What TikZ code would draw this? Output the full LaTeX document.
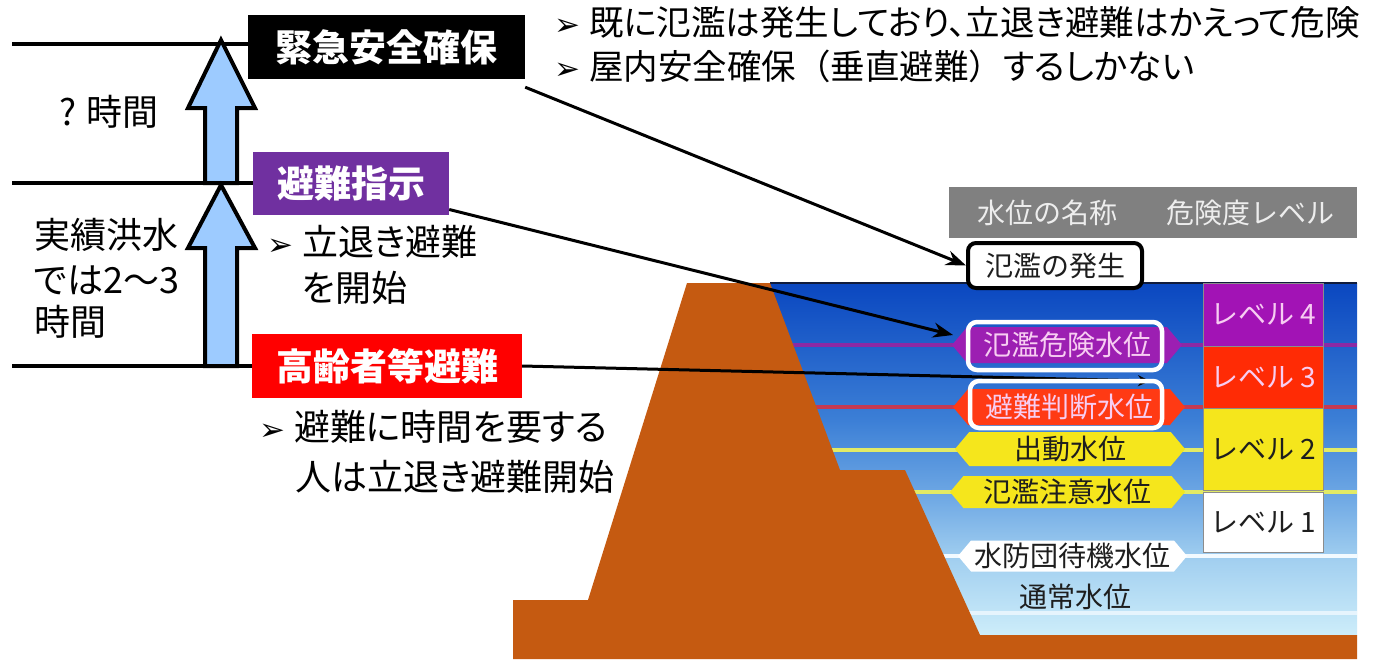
\documentclass[tikz,border=0pt]{standalone}
\usepackage{fontspec}
\usetikzlibrary{arrows.meta,shapes.symbols}
\setmainfont{Noto Sans CJK JP}
\newfontfamily\jp{Noto Sans CJK JP}[RawFeature=+palt]
\newfontfamily\jpf{Noto Sans CJK JP}
\newfontfamily\dv{DejaVu Sans}
\newcommand\myfs[1]{\fontsize{#1}{#1}\selectfont}
\newcommand\bul{\makebox[35pt][l]{\dv\myfs{31}➢}}

\definecolor{arrowblue}{HTML}{9DCBFF}
\definecolor{titlepurple}{HTML}{7030A0}
\definecolor{titlered}{HTML}{FF0000}
\definecolor{hdrgray}{HTML}{808080}
\definecolor{damcol}{HTML}{C55A11}
\definecolor{wA}{HTML}{CDEDFA}
\definecolor{wB}{HTML}{A3D0F0}
\definecolor{wC}{HTML}{72ABE5}
\definecolor{wD}{HTML}{3C7FD6}
\definecolor{wE}{HTML}{0A47C0}
\definecolor{lvpurple}{HTML}{A213B5}
\definecolor{lvred}{HTML}{FF2B05}
\definecolor{lvyellow}{HTML}{F5E61C}
\definecolor{hexpurple}{HTML}{9C1FB2}
\definecolor{hexred}{HTML}{FF3A14}
\definecolor{pinktext}{HTML}{F7CDF2}
\definecolor{lnpurple}{HTML}{8C2AA4}
\definecolor{lnred}{HTML}{C63A52}
\definecolor{lnyellow}{HTML}{E2EA66}
\definecolor{lnwhite}{HTML}{F2FAFF}
\definecolor{inkdark}{HTML}{1E1E1E}
\definecolor{navy}{HTML}{101C3C}

% water body: light at the bottom, deep blue at the surface
\pgfdeclareverticalshading{waterfill}{100bp}{color(0bp)=(wA); color(25bp)=(wA); color(35.5bp)=(wB); color(44bp)=(wC); color(55.5bp)=(wD); color(75bp)=(wE); color(100bp)=(wE)}

\begin{document}
\begin{tikzpicture}[x=1pt,y=-1pt,
  jt/.style={font=\jp\myfs{36}, inner sep=0, anchor=west},
  topt/.style={font=\jp\myfs{34.5}, inner sep=0, anchor=west},
  ttl/.style={font=\jp\bfseries\myfs{37}, text=white, inner sep=0},
  axisline/.style={line width=4pt},
  blockarrow/.style={draw=black, fill=arrowblue, line width=4pt, line join=miter},
  conn/.style={line width=3pt, -{Stealth[length=20pt,width=15pt]}},
  smallconn/.style={line width=3pt, -{Stealth[length=12pt,width=11pt]}},
  panel/.style={font=\jpf\myfs{28}, inner sep=0},
  hexlab/.style={panel, shape=signal, signal to=east and west, signal pointer angle=100},
  lvbox/.style={panel, draw=black!45, line width=1pt, minimum width=120},
  hlframe/.style={draw=white, line width=4.5pt, rounded corners=9pt, inner sep=0},
  lvline/.style={line width=4pt}]
\useasboundingbox (0,0) rectangle (1378,659);

% ---------- water-level panel ----------
\node[fill=hdrgray, minimum width=408, minimum height=51, inner sep=0] (hdr) at (1153,212.5) {};
\node[font=\jpf\myfs{28}, text=white!93!black, inner sep=0] (hdrtxt) at (1156,212.5)
      {水位の名称\hspace{50pt}危険度レベル};

\shade[shading=waterfill] (760,283) rectangle (1357,635);
\draw[navy, line width=2pt] (770,283) -- (1357,283);

\draw[lvline, lnpurple] (760,345) -- (1357,345);
\draw[lvline, lnred]    (760,407) -- (1357,407);
\draw[lvline, lnyellow] (760,450) -- (1357,450);
\draw[lvline, lnyellow] (760,492) -- (1357,492);
\draw[lvline, lnwhite]  (760,556) -- (1357,556);
\draw[lvline, lnwhite!85!wB] (760,613) -- (1357,613);

% embankment
\fill[damcol] (687,283) -- (770,283) -- (840,470) -- (905,470) -- (980,635)
  -- (1357,635) -- (1357,659) -- (513,659) -- (513,600) -- (588,600) -- cycle;

% danger levels
\node[lvbox, fill=lvpurple, text=pinktext, minimum height=63] (lv4) at (1263,314.5) {レベル 4};
\node[lvbox, fill=lvred, text=pinktext, minimum height=62] (lv3) at (1263,377) {レベル 3};
\node[lvbox, fill=lvyellow, text=inkdark, minimum height=82] (lv2) at (1263,449) {レベル 2};
\node[lvbox, fill=white, text=inkdark, minimum height=60] (lv1) at (1263,522) {レベル 1};

% named water levels
\node[hexlab, fill=hexpurple, text=pinktext, minimum width=230, minimum height=36] (hexA) at (1067,345) {氾濫危険水位};
\node[hexlab, fill=hexred, text=pinktext, minimum width=232, minimum height=36] (hexB) at (1069,407) {避難判断水位};
\node[hexlab, fill=lvyellow, text=inkdark, minimum width=230, minimum height=34] (hexC) at (1070,449) {出動水位};
\node[hexlab, fill=lvyellow, text=inkdark, minimum width=235, minimum height=32] (hexD) at (1067.5,492) {氾濫注意水位};
\node[hexlab, fill=white, text=inkdark, minimum width=229, minimum height=31] (hexE) at (1072.5,556) {水防団待機水位};
\node[panel, text=inkdark] (tsujo) at (1075,597) {通常水位};

\node[panel, draw=black, line width=4pt, rounded corners=8pt, fill=white, text=inkdark,
      minimum width=174, minimum height=45] (hatsu) at (1055,265.5) {氾濫の発生};

% ---------- time axis ----------
\draw[axisline] (12,44) -- (248,44);
\draw[axisline] (12,183) -- (253,183);
\draw[axisline] (12,366) -- (252,366);

\draw[blockarrow] (221,40) -- (255,108) -- (237,108) -- (237,183) -- (205,183)
  -- (205,108) -- (188,108) -- cycle;
\draw[blockarrow] (221,185) -- (255,248) -- (237,248) -- (237,366) -- (205,366)
  -- (205,248) -- (188,248) -- cycle;

\node[jt] (qjikan) at (59,112) {? 時間};
\node[jt] (jis1) at (34,235) {実績洪水};
\node[jt] (jis2) at (34,280) {では2～3};
\node[jt] (jis3) at (34,322) {時間};

% ---------- alert titles ----------
\node[ttl, fill=black, minimum width=277, minimum height=64] (kinkyu) at (386.5,47) {緊急安全確保};
\node[ttl, fill=titlepurple, minimum width=196, minimum height=63] (shiji) at (351,183.5) {避難指示};
\node[ttl, fill=titlered, minimum width=270, minimum height=64] (korei) at (387,366) {高齢者等避難};

\node[topt] (note1) at (554,22) {\bul 既に氾濫は発生しており、立退き避難はかえって危険};
\node[topt] (note2) at (554,66) {\bul 屋内安全確保{\jpf （}垂直避難{\jpf ）}するしかない};
\node[jt] (note3) at (267,242) {\bul 立退き避難};
\node[jt] (note4) at (302,288) {を開始};
\node[jt] (note5) at (259,427) {\bul 避難に時間を要する};
\node[jt] (note6) at (295,477) {人は立退き避難開始};

% ---------- connectors ----------
\coordinate (tipB) at (953,335);
\coordinate (tipC) at (1150,381);
\draw[conn] ([yshift=-8pt]kinkyu.south east) -- (hatsu.west);
\draw[conn] ([yshift=-26pt]shiji.east) -- (tipB);
\draw[smallconn] (korei.east) -- (tipC);

\node[hlframe, minimum width=194, minimum height=48] (frA) at (1065,346) {};
\node[hlframe, minimum width=192, minimum height=47] (frB) at (1066,404.5) {};
\end{tikzpicture}
\end{document}
